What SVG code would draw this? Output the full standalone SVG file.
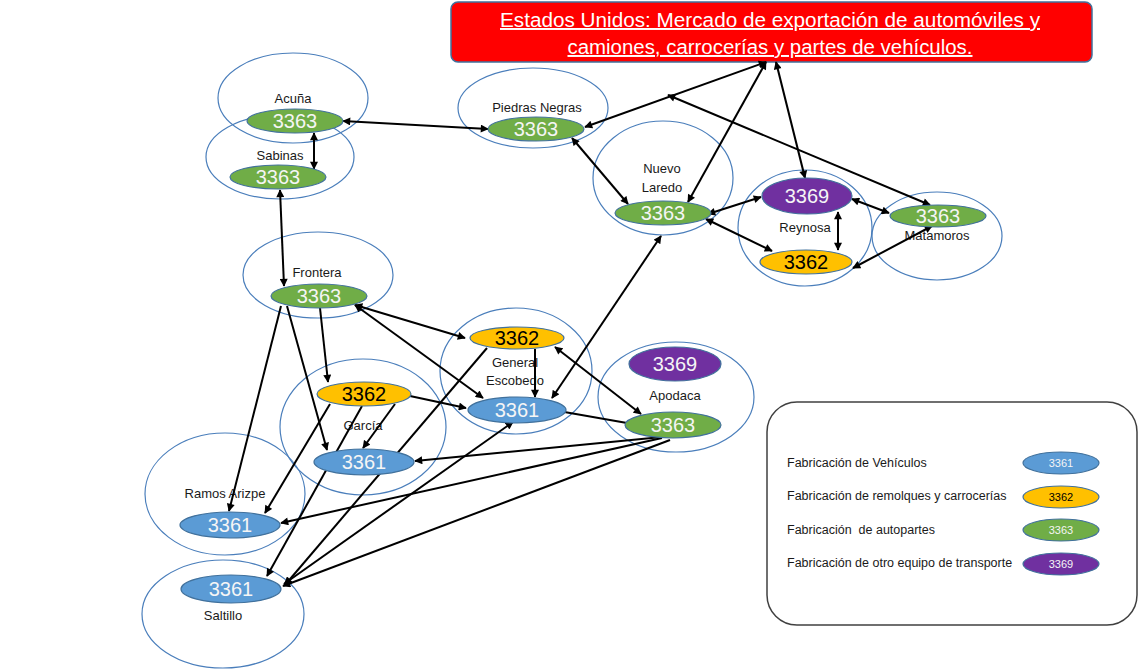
<svg xmlns="http://www.w3.org/2000/svg" width="1138" height="670" viewBox="0 0 1138 670">
<defs>
<marker id="ah" viewBox="0 0 10 10" refX="9" refY="5" markerWidth="9" markerHeight="8" markerUnits="userSpaceOnUse" orient="auto-start-reverse">
<path d="M0,0 L10,5 L0,10 z" fill="#000"/>
</marker>
<style>
.city{fill:none;stroke:#4A7EBB;stroke-width:1.2}
.clab{font-family:"Liberation Sans",Arial,sans-serif;font-size:13px;fill:#1a1a1a;text-anchor:middle}
.n{stroke:#41719C;stroke-width:1.2}
.g{fill:#70AD47}.b{fill:#5B9BD5}.y{fill:#FFC000}.p{fill:#7030A0}
.nt{font-family:"Liberation Sans",Arial,sans-serif;font-size:20px;text-anchor:middle;fill:#F5F5F5}
.nt.k{fill:#000}
.c line{stroke:#000;stroke-width:2}
.lt{font-family:"Liberation Sans",Arial,sans-serif;font-size:12.5px;fill:#1a1a1a}
.ln{font-family:"Liberation Sans",Arial,sans-serif;font-size:11px;text-anchor:middle;fill:#F5F5F5}
</style>
</defs>
<rect width="1138" height="670" fill="#fff"/>

<g id="title">
<rect x="451" y="2" width="641" height="60" rx="7" fill="#FF0000" stroke="#41719C" stroke-width="1.5"/>
<text x="770" y="27" font-family="'Liberation Sans',Arial,sans-serif" font-size="19.5" fill="#fff" text-anchor="middle" text-decoration="underline" textLength="540" lengthAdjust="spacingAndGlyphs">Estados Unidos: Mercado de exportación de automóviles y</text>
<text x="770" y="54" font-family="'Liberation Sans',Arial,sans-serif" font-size="19.5" fill="#fff" text-anchor="middle" text-decoration="underline" textLength="405" lengthAdjust="spacingAndGlyphs">camiones, carrocerías y partes de vehículos.</text>
</g>

<g id="city-acuna"><ellipse class="city" cx="293" cy="98" rx="75" ry="45"/><text class="clab" x="293" y="103">Acuña</text></g>
<g id="city-sabinas"><ellipse class="city" cx="280" cy="157" rx="74" ry="42"/><text class="clab" x="280" y="160">Sabinas</text></g>
<g id="city-piedras"><ellipse class="city" cx="533" cy="108" rx="75" ry="40"/><text class="clab" x="537" y="112">Piedras Negras</text></g>
<g id="city-nuevolaredo"><ellipse class="city" cx="663" cy="178" rx="70" ry="57"/><text class="clab" x="662" y="173">Nuevo</text><text class="clab" x="662" y="192">Laredo</text></g>
<g id="city-reynosa"><ellipse class="city" cx="805" cy="228" rx="67" ry="58"/><text class="clab" x="805" y="232">Reynosa</text></g>
<g id="city-matamoros"><ellipse class="city" cx="937" cy="236" rx="65" ry="44"/><text class="clab" x="937" y="240">Matamoros</text></g>
<g id="city-frontera"><ellipse class="city" cx="318" cy="275" rx="75" ry="43"/><text class="clab" x="317" y="277">Frontera</text></g>
<g id="city-escobedo"><ellipse class="city" cx="516" cy="371" rx="76" ry="63"/><text class="clab" x="515" y="367">General</text><text class="clab" x="515" y="385">Escobedo</text></g>
<g id="city-garcia"><ellipse class="city" cx="363" cy="427" rx="83" ry="68"/><text class="clab" x="363" y="430">García</text></g>
<g id="city-apodaca"><ellipse class="city" cx="676" cy="397" rx="78" ry="55"/><text class="clab" x="675" y="400">Apodaca</text></g>
<g id="city-ramos"><ellipse class="city" cx="225" cy="494" rx="80" ry="61"/><text class="clab" x="225" y="498">Ramos Arizpe</text></g>
<g id="city-saltillo"><ellipse class="city" cx="223" cy="614" rx="81" ry="54"/><text class="clab" x="223" y="620">Saltillo</text></g>

<g id="connectors" class="c">
<line x1="343" y1="121" x2="488" y2="129" marker-start="url(#ah)" marker-end="url(#ah)"/>
<line x1="314" y1="133" x2="314" y2="169" marker-start="url(#ah)" marker-end="url(#ah)"/>
<line x1="280" y1="190" x2="284" y2="286" marker-start="url(#ah)" marker-end="url(#ah)"/>
<line x1="585" y1="127" x2="766" y2="62" marker-start="url(#ah)" marker-end="url(#ah)"/>
<line x1="930" y1="205" x2="668" y2="95" marker-start="url(#ah)" marker-end="url(#ah)"/>
<line x1="688" y1="202" x2="766" y2="62" marker-start="url(#ah)" marker-end="url(#ah)"/>
<line x1="805" y1="178" x2="776" y2="62" marker-start="url(#ah)" marker-end="url(#ah)"/>
<line x1="572" y1="138" x2="628" y2="204" marker-start="url(#ah)" marker-end="url(#ah)"/>
<line x1="708" y1="214" x2="761" y2="197" marker-start="url(#ah)" marker-end="url(#ah)"/>
<line x1="706" y1="219" x2="772" y2="251" marker-start="url(#ah)" marker-end="url(#ah)"/>
<line x1="838" y1="212" x2="838" y2="250" marker-start="url(#ah)" marker-end="url(#ah)"/>
<line x1="852" y1="199" x2="889" y2="213" marker-start="url(#ah)" marker-end="url(#ah)"/>
<line x1="853" y1="268" x2="932" y2="226" marker-start="url(#ah)" marker-end="url(#ah)"/>
<line x1="552" y1="398" x2="661" y2="236" marker-start="url(#ah)" marker-end="url(#ah)"/>
<line x1="355" y1="305" x2="465" y2="338" marker-start="url(#ah)" marker-end="url(#ah)"/>
<line x1="355" y1="305" x2="483" y2="398" marker-start="url(#ah)" marker-end="url(#ah)"/>
<line x1="320" y1="308" x2="328" y2="382" marker-end="url(#ah)"/>
<line x1="287" y1="306" x2="327" y2="450" marker-end="url(#ah)"/>
<line x1="281" y1="306" x2="229" y2="511" marker-end="url(#ah)"/>
<line x1="535" y1="349" x2="535" y2="397" marker-end="url(#ah)"/>
<line x1="410" y1="396" x2="466" y2="408" marker-end="url(#ah)"/>
<line x1="555" y1="347" x2="641" y2="414" marker-start="url(#ah)" marker-end="url(#ah)"/>
<line x1="627" y1="423" x2="553" y2="410" marker-end="url(#ah)"/>
<line x1="662" y1="437" x2="415" y2="461" marker-end="url(#ah)"/>
<line x1="662" y1="438" x2="281" y2="523" marker-end="url(#ah)"/>
<line x1="670" y1="440" x2="283" y2="586" marker-end="url(#ah)"/>
<line x1="513" y1="422" x2="284" y2="584" marker-start="url(#ah)" marker-end="url(#ah)"/>
<line x1="487" y1="348" x2="285" y2="585" marker-end="url(#ah)"/>
<line x1="362" y1="406" x2="267" y2="576" marker-end="url(#ah)"/>
<line x1="330" y1="404" x2="265" y2="513" marker-end="url(#ah)"/>
<line x1="395" y1="404" x2="363" y2="448" marker-end="url(#ah)"/>
</g>

<g id="acuna-3363"><ellipse class="n g" cx="295" cy="121" rx="48" ry="12"/><text class="nt" x="295" y="128">3363</text></g>
<g id="sabinas-3363"><ellipse class="n g" cx="278" cy="177" rx="48" ry="12"/><text class="nt" x="278" y="184">3363</text></g>
<g id="piedras-3363"><ellipse class="n g" cx="536" cy="129" rx="48" ry="12"/><text class="nt" x="536" y="136">3363</text></g>
<g id="nuevolaredo-3363"><ellipse class="n g" cx="663" cy="213" rx="48" ry="12"/><text class="nt" x="663" y="220">3363</text></g>
<g id="reynosa-3369"><ellipse class="n p" cx="807" cy="196" rx="45" ry="18"/><text class="nt" x="807" y="203">3369</text></g>
<g id="reynosa-3362"><ellipse class="n y" cx="806" cy="262" rx="46" ry="12"/><text class="nt k" x="806" y="269">3362</text></g>
<g id="matamoros-3363"><ellipse class="n g" cx="938" cy="216" rx="48" ry="11"/><text class="nt" x="938" y="223">3363</text></g>
<g id="frontera-3363"><ellipse class="n g" cx="319" cy="296" rx="48" ry="12"/><text class="nt" x="319" y="303">3363</text></g>
<g id="escobedo-3362"><ellipse class="n y" cx="517" cy="338" rx="47" ry="11"/><text class="nt k" x="517" y="345">3362</text></g>
<g id="escobedo-3361"><ellipse class="n b" cx="517" cy="410" rx="49" ry="13"/><text class="nt" x="517" y="417">3361</text></g>
<g id="garcia-3362"><ellipse class="n y" cx="364" cy="394" rx="47" ry="12"/><text class="nt k" x="364" y="401">3362</text></g>
<g id="garcia-3361"><ellipse class="n b" cx="364" cy="462" rx="50" ry="13"/><text class="nt" x="364" y="469">3361</text></g>
<g id="apodaca-3369"><ellipse class="n p" cx="675" cy="364" rx="46" ry="17"/><text class="nt" x="675" y="371">3369</text></g>
<g id="apodaca-3363"><ellipse class="n g" cx="673" cy="425" rx="48" ry="13"/><text class="nt" x="673" y="432">3363</text></g>
<g id="ramos-3361"><ellipse class="n b" cx="230" cy="525" rx="50" ry="13"/><text class="nt" x="230" y="532">3361</text></g>
<g id="saltillo-3361"><ellipse class="n b" cx="231" cy="589" rx="50" ry="14"/><text class="nt" x="231" y="596">3361</text></g>

<g id="legend">
<rect x="767" y="402" width="370" height="223" rx="30" fill="#fff" stroke="#404040" stroke-width="1.5"/>
<text class="lt" x="787" y="467">Fabricación de Vehículos</text>
<text class="lt" x="787" y="500">Fabricación de remolques y carrocerías</text>
<text class="lt" x="787" y="534" xml:space="preserve">Fabricación  de autopartes</text>
<text class="lt" x="787" y="567">Fabricación de otro equipo de transporte</text>
<ellipse class="n b" cx="1061" cy="463" rx="38" ry="11"/><text class="ln" x="1061" y="467">3361</text>
<ellipse class="n y" cx="1061" cy="497" rx="38" ry="11"/><text class="ln" x="1061" y="501" fill="#000" style="fill:#000">3362</text>
<ellipse class="n g" cx="1061" cy="530" rx="38" ry="11"/><text class="ln" x="1061" y="534">3363</text>
<ellipse class="n p" cx="1061" cy="564" rx="38" ry="11"/><text class="ln" x="1061" y="568">3369</text>
</g>
</svg>
